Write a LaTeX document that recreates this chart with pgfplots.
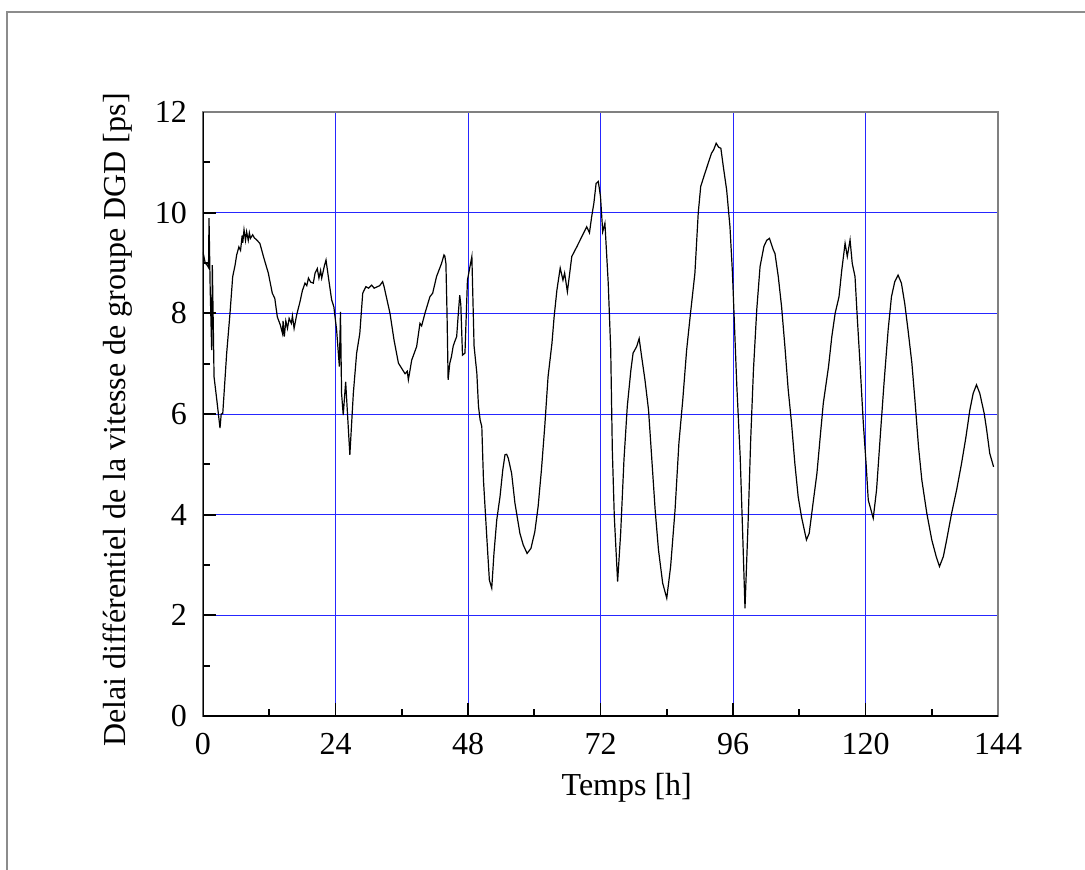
\documentclass[border=0pt]{standalone}
\usepackage{fontspec}
\setmainfont{Liberation Serif}
\usepackage{pgfplots}
\pgfplotsset{compat=1.18}
\begin{document}
\fontsize{16}{19}\selectfont
\begin{tikzpicture}
\useasboundingbox (-101.5pt,-76.5pt) rectangle (441pt,358pt);
\draw[gray!90, line width=0.6pt] (-98pt,-90pt) -- (-98pt,352pt) -- (450pt,352pt);
\begin{axis}[
  at={(0,0)}, anchor=south west,
  scale only axis, width=397.5pt, height=302pt,
  xmin=0, xmax=144, ymin=0, ymax=12,
  xtick={0,24,...,144}, ytick={0,2,...,12},
  minor x tick num=1, minor y tick num=1,
  xtick pos=left, ytick pos=left,
  tick align=inside,
  major tick length=6.5pt, minor tick length=3.5pt,
  every tick/.style={black, line width=0.9pt},
  grid=major,
  major grid style={blue!85!white, line width=0.5pt},
  axis line style={gray, line width=0.6pt},
  /pgf/number format/assume math mode=true,
  tick label style={font=\fontsize{16}{19}\selectfont},
  yticklabel style={xshift=-2.5pt},
  xticklabel style={yshift=-3pt},
  xlabel={Temps [h]},
  ylabel={Delai différentiel de la vitesse de groupe DGD [ps]},
  xlabel style={at={(axis description cs:0.533,-0.119)}, anchor=center, font=\fontsize{16}{19}\selectfont},
  ylabel style={at={(axis description cs:-0.107,0.49)}, anchor=center, font=\fontsize{16}{19}\selectfont},
]
\addplot[black, line width=0.6pt] coordinates {
(0,9.22) (0.4,9.0) (0.8,8.95) (1.0,8.91) (1.09,9.89) (1.3,8.5) (1.57,7.27) (1.69,8.96) (1.9,7.5) (2.0,6.74) (2.5,6.28) (3.08,5.72) (3.3,6.0) (3.58,6.01) (4.29,7.21) (4.89,8.0) (5.38,8.73) (5.8,8.95) (6.1,9.16) (6.5,9.32) (6.8,9.25) (7.1,9.55) (7.2,9.4) (7.43,9.66) (7.7,9.45) (7.9,9.62) (8.2,9.45) (8.4,9.6) (8.6,9.49) (9.0,9.56) (9.3,9.5) (9.72,9.46) (10.3,9.39) (11.05,9.09) (11.83,8.8) (12.55,8.40) (13.0,8.3) (13.46,7.93) (14.0,7.77) (14.4,7.6) (14.5,7.85) (14.73,7.54) (15.0,7.85) (15.3,7.7) (15.6,7.9) (16.0,7.8) (16.2,7.95) (16.5,7.7) (16.97,7.97) (17.57,8.23) (18.0,8.45) (18.47,8.6) (18.8,8.55) (19.1,8.7) (19.5,8.62) (19.98,8.6) (20.3,8.8) (20.7,8.89) (21.0,8.7) (21.3,8.85) (21.5,8.7) (22.0,8.95) (22.28,9.06) (22.7,8.73) (23.3,8.27) (23.7,8.13) (24.2,7.67) (24.7,6.94) (24.9,8.03) (25.1,6.41) (25.4,5.98) (25.84,6.64) (26.6,5.19) (27.23,6.41) (27.83,7.21) (28.4,7.6) (28.93,8.4) (29.5,8.53) (30.0,8.5) (30.55,8.56) (31.0,8.5) (31.6,8.53) (32.0,8.55) (32.54,8.63) (32.8,8.53) (33.87,8.0) (34.6,7.47) (35.4,7.01) (36.2,6.87) (36.6,6.8) (37.0,6.85) (37.2,6.68) (37.8,7.07) (38.7,7.34) (39.3,7.8) (39.6,7.75) (40.2,8.0) (41.1,8.33) (41.6,8.4) (42.3,8.73) (43.2,8.99) (43.65,9.16) (43.8,9.14) (44.0,8.99) (44.2,8.0) (44.4,6.68) (44.7,7.01) (45.0,7.14) (45.3,7.34) (45.6,7.44) (45.95,7.54) (46.2,7.93) (46.5,8.36) (46.7,8.17) (47.0,7.17) (47.45,7.21) (47.9,8.66) (48.7,9.13) (49.1,7.35) (49.6,6.81) (49.9,6.15) (50.2,5.88) (50.5,5.75) (50.8,4.69) (51.4,3.56) (51.87,2.70) (52.3,2.54) (52.7,3.23) (53.2,3.89) (53.8,4.36) (54.3,4.89) (54.7,5.19) (55.0,5.2) (55.3,5.12) (55.9,4.82) (56.5,4.23) (57.4,3.63) (58.0,3.40) (58.7,3.23) (59.4,3.33) (60.1,3.66) (60.7,4.16) (61.3,4.89) (61.9,5.75) (62.5,6.74) (63.2,7.40) (63.6,7.93) (64.1,8.46) (64.7,8.9) (65.2,8.66) (65.5,8.8) (66.0,8.43) (66.8,9.13) (67.7,9.32) (68.6,9.52) (69.5,9.72) (70.0,9.6) (70.4,9.92) (70.8,10.19) (71.2,10.58) (71.6,10.62) (72.0,10.32) (72.4,9.62) (72.8,9.79) (73.4,8.6) (73.85,7.27) (74.14,5.29) (74.5,3.96) (75.1,2.67) (75.65,3.63) (76.25,5.09) (76.85,6.15) (77.5,6.87) (77.9,7.21) (78.55,7.34) (79.0,7.5) (79.45,7.14) (80.05,6.68) (80.7,6.08) (81.3,5.09) (81.9,4.09) (82.5,3.3) (83.26,2.64) (84.0,2.34) (84.7,2.97) (85.5,4.09) (86.2,5.42) (86.9,6.28) (87.6,7.27) (88.3,8.0) (89.1,8.8) (89.7,9.99) (90.15,10.52) (90.9,10.78) (91.5,10.98) (92.1,11.18) (92.5,11.25) (92.95,11.38) (93.4,11.3) (93.8,11.28) (94.25,10.91) (94.85,10.45) (95.45,9.72) (95.9,8.8) (96.67,6.61) (97.3,5.15) (97.75,3.63) (98.17,2.14) (98.77,3.96) (99.2,5.48) (99.7,6.87) (100.3,8.07) (100.9,8.93) (101.6,9.33) (102.1,9.45) (102.6,9.49) (103.3,9.26) (103.6,9.19) (104.2,8.73) (104.8,8.13) (105.4,7.34) (106.0,6.48) (106.6,5.82) (107.2,5.02) (107.8,4.36) (108.4,3.96) (109.3,3.5) (109.8,3.63) (110.5,4.23) (111.2,4.82) (111.8,5.55) (112.35,6.21) (113.3,6.94) (113.9,7.54) (114.5,8.0) (115.2,8.33) (115.7,8.86) (116.3,9.39) (116.7,9.13) (117.2,9.46) (117.6,8.99) (118.1,8.73) (118.5,7.93) (119.0,7.01) (119.6,5.82) (120.1,5.02) (120.5,4.29) (121.4,3.93) (122.0,4.49) (122.75,5.68) (123.35,6.61) (124.1,7.67) (124.7,8.33) (125.3,8.63) (125.9,8.76) (126.5,8.6) (127.1,8.2) (127.7,7.67) (128.4,7.01) (129.0,6.21) (129.6,5.35) (130.2,4.69) (131.1,4.03) (132.0,3.5) (132.8,3.17) (133.4,2.97) (134.1,3.17) (134.7,3.5) (135.6,4.03) (136.5,4.49) (137.4,5.02) (138.2,5.55) (138.9,6.08) (139.5,6.41) (140.1,6.58) (140.7,6.41) (141.5,6.01) (141.95,5.68) (142.5,5.22) (143.2,4.95)
};
\draw[gray, line width=0.6pt] (rel axis cs:0,1) -- (rel axis cs:1,1) -- (rel axis cs:1,0);
\draw[black, line width=1pt] (rel axis cs:0,1) -- (rel axis cs:0,0) -- (rel axis cs:1,0);
\end{axis}
\end{tikzpicture}
\end{document}
